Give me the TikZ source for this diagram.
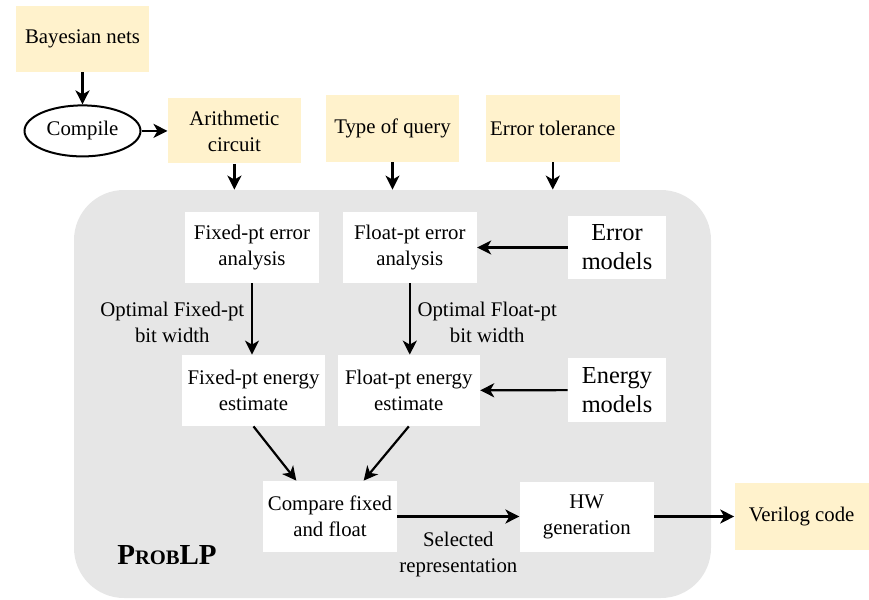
\documentclass[tikz,border=0pt]{standalone}
\usepackage{fontspec}
\setmainfont{Liberation Serif}
\usepackage{xcolor}
\usepackage{tikz}
\usetikzlibrary{arrows.meta,positioning,shapes.geometric,calc}
\definecolor{plpyellow}{RGB}{255,242,204}
\definecolor{plpgray}{RGB}{230,230,230}

\begin{document}
\begin{tikzpicture}[
    x=0.5pt, y=0.5pt,
    font=\fontsize{10.4}{13}\selectfont,
    inbox/.style={rectangle, fill=plpyellow, minimum width=66.5pt, minimum height=33pt,
                  align=center, inner sep=2pt},
    stagebox/.style={rectangle, fill=white, minimum width=67pt, minimum height=35.5pt,
                  align=center, inner sep=2pt},
    modelbox/.style={rectangle, fill=white, minimum width=49pt, minimum height=31.5pt,
                  align=center, inner sep=2pt, font=\fontsize{12.2}{14.5}\selectfont},
    procell/.style={ellipse, draw, line width=1pt, minimum width=58pt, minimum height=25.5pt,
                  inner sep=0pt},
    panel/.style={rectangle, fill=plpgray, rounded corners=25pt, minimum width=318.5pt,
                  minimum height=204pt},
    arrow/.style={-{Stealth[length=7pt,width=7pt,inset=2pt]}, line width=1.1pt},
    lbl/.style={align=center}
]
\useasboundingbox (0,0) rectangle (869,-600);

% ProbLP block
\node[panel] (plp) at (392.5,-394) {};

% inputs
\node[inbox] (bayes) at (82.5,-39) {Bayesian nets};
\node[procell, below=16pt of bayes] (compile) {Compile};
\node[inbox, minimum height=32.5pt, right=13pt of compile] (arith) {Arithmetic\\circuit};
\node[inbox, minimum height=33.5pt] (query) at (392.5,-128.5) {Type of query};
\node[inbox, minimum height=33.5pt, minimum width=67pt, right=13pt of query] (tol) {Error tolerance};

% inside ProbLP
\node[stagebox] (fixerr) at (252,-247.5) {Fixed-pt error\\analysis};
\node[stagebox, right=11.5pt of fixerr] (flterr) {Float-pt error\\analysis};
\node[modelbox] (errmod) at (617,-247.5) {Error\\models};
\node[stagebox, minimum width=71.5pt] (fixen) at (253.5,-390.5) {Fixed-pt energy\\estimate};
\node[stagebox, minimum width=71pt, right=6pt of fixen] (flten) {Float-pt energy\\estimate};
\node[modelbox, minimum height=32pt] (enmod) at (617,-390) {Energy\\models};
\node[stagebox] (compare) at (330,-516.5) {Compare fixed\\and float};
\node[stagebox, minimum height=35pt, right=61pt of compare] (hwgen) {HW\\generation};
\node[inbox, minimum width=67pt, minimum height=33.5pt, right=40pt of hwgen] (verilog) {Verilog code};
\node (name) at (167,-555) {\fontsize{14.5}{16}\selectfont\bfseries P{\fontsize{10.3}{12}\selectfont ROB}LP};

\draw[arrow] (bayes) -- (compile);
\draw[arrow] (compile) -- (arith);
\draw[arrow] (arith) -- (arith |- plp.north);
\draw[arrow] (query) -- (query |- plp.north);
\draw[arrow] (tol) -- (tol |- plp.north);
\draw[arrow] (errmod) -- (flterr);
\draw[arrow] (enmod) -- (flten);
\draw[arrow] (fixerr.south) -- node[lbl, left, yshift=-1.5pt] {Optimal Fixed-pt\\bit width} (fixerr.south |- fixen.north);
\draw[arrow] (flterr.south) -- node[lbl, right, yshift=-1.5pt] {Optimal Float-pt\\bit width} (flterr.south |- flten.north);
\draw[arrow] (fixen.south) -- ($(compare.north)!0.5!(compare.north west)$);
\draw[arrow] (flten.south) -- ($(compare.north)!0.5!(compare.north east)$);
\draw[arrow] (compare) -- node[lbl, below, yshift=-4pt] {Selected\\representation} (hwgen);
\draw[arrow] (hwgen) -- (verilog);
\end{tikzpicture}
\end{document}
